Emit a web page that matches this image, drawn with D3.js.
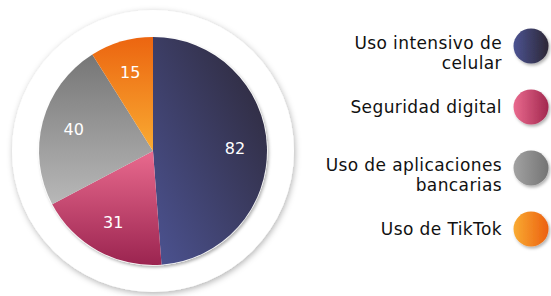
<!DOCTYPE html>
<html>
<head>
<meta charset="utf-8">
<script src="https://cdn.jsdelivr.net/npm/d3@7"></script>
<style>
  html, body { margin: 0; padding: 0; background: #fff; }
  text { font-family: "DejaVu Sans", sans-serif; }
</style>
</head>
<body>
<div id="chart"></div>
<script>
(function() {
  var categories = ["Uso intensivo de celular", "Seguridad digital", "Uso de aplicaciones bancarias", "Uso de TikTok"];
  var values = [82, 31, 40, 15];
  var legendLines = [["Uso intensivo de", "celular"], ["Seguridad digital"], ["Uso de aplicaciones", "bancarias"], ["Uso de TikTok"]];

  // slice gradients: [start, end]
  var sliceColors = [["#4c5392", "#2c2736"], ["#e96a8e", "#9b2450"], ["#767676", "#b8b8b8"], ["#ec6510", "#f9ab32"]];
  var dotColors = [["#4c5392", "#2c2736"], ["#e96a8e", "#a2284f"], ["#a2a2a2", "#747474"], ["#f9ab32", "#ec6010"]];

  var width = 551, height = 296;
  var cx = 153, cy = 151, radius = 114;

  var data = categories.map(function(c, i) {
    return { name: c, value: values[i], lines: legendLines[i], i: i };
  });

  var svg = d3.select("#chart")
    .append("svg")
    .attr("width", width)
    .attr("height", height);

  var defs = svg.append("defs");

  var shadow = defs.append("filter")
    .attr("id", "shadow")
    .attr("x", "-20%").attr("y", "-20%")
    .attr("width", "140%").attr("height", "140%");
  shadow.append("feDropShadow")
    .attr("dx", 1).attr("dy", 2)
    .attr("stdDeviation", 3)
    .attr("flood-color", "#000")
    .attr("flood-opacity", 0.3);

  var dotShadow = defs.append("filter")
    .attr("id", "dotshadow")
    .attr("x", "-40%").attr("y", "-40%")
    .attr("width", "180%").attr("height", "180%");
  dotShadow.append("feDropShadow")
    .attr("dx", 1.5).attr("dy", 2)
    .attr("stdDeviation", 1.5)
    .attr("flood-color", "#000")
    .attr("flood-opacity", 0.3);

  // slice gradients (diagonal for the first, vertical for the rest)
  var sliceDirs = [[0, 1, 1, 0], [0, 0, 0, 1], [0, 0, 0, 1], [0, 0, 0, 1]];
  sliceColors.forEach(function(c, i) {
    var g = defs.append("linearGradient")
      .attr("id", "slice" + i)
      .attr("x1", sliceDirs[i][0]).attr("y1", sliceDirs[i][1])
      .attr("x2", sliceDirs[i][2]).attr("y2", sliceDirs[i][3]);
    g.append("stop").attr("offset", "0%").attr("stop-color", c[0]);
    g.append("stop").attr("offset", "100%").attr("stop-color", c[1]);
  });

  dotColors.forEach(function(c, i) {
    var g = defs.append("linearGradient")
      .attr("id", "dot" + i)
      .attr("x1", 0).attr("y1", 0)
      .attr("x2", 1).attr("y2", 0);
    g.append("stop").attr("offset", "0%").attr("stop-color", c[0]);
    g.append("stop").attr("offset", "100%").attr("stop-color", c[1]);
  });

  var g = svg.append("g")
    .attr("transform", "translate(" + cx + "," + cy + ")");

  // white plate behind the pie
  g.append("circle")
    .attr("r", radius + 27)
    .attr("fill", "#fff")
    .attr("filter", "url(#shadow)");

  var pie = d3.pie()
    .sort(null)
    .value(function(d) { return d.value; });

  var arc = d3.arc().innerRadius(0).outerRadius(radius);
  var labelArc = d3.arc().innerRadius(radius * 0.72).outerRadius(radius * 0.72);

  var arcs = pie(data);

  g.append("circle")
    .attr("r", radius + 0.5)
    .attr("fill", "#fff")
    .attr("filter", "url(#dotshadow)");

  g.selectAll(".slice")
    .data(arcs)
    .enter().append("path")
    .attr("class", "slice")
    .attr("d", arc)
    .attr("fill", function(d) { return "url(#slice" + d.data.i + ")"; });

  g.selectAll(".slicelabel")
    .data(arcs)
    .enter().append("text")
    .attr("class", "slicelabel")
    .attr("transform", function(d) { return "translate(" + labelArc.centroid(d) + ")"; })
    .attr("dy", "0.35em")
    .style("text-anchor", "middle")
    .style("font-size", "16px")
    .attr("fill", "#fff")
    .text(function(d) { return d.data.value; });

  // legend
  var yScale = d3.scalePoint()
    .domain(categories)
    .range([46, 229]);

  var dotX = 531, textX = 502, lineH = 20;

  var legend = svg.selectAll(".legend")
    .data(data)
    .enter().append("g")
    .attr("class", "legend")
    .attr("transform", function(d) { return "translate(0," + yScale(d.name) + ")"; });

  legend.append("circle")
    .attr("cx", dotX)
    .attr("cy", 0)
    .attr("r", 17.5)
    .attr("fill", function(d) { return "url(#dot" + d.i + ")"; })
    .attr("filter", "url(#dotshadow)");

  legend.append("text")
    .attr("x", textX)
    .attr("y", function(d) { return d.lines.length > 1 ? -3 : 0; })
    .style("text-anchor", "end")
    .style("font-size", "17px")
    .style("letter-spacing", "0.4px")
    .attr("fill", "#111")
    .selectAll("tspan")
    .data(function(d) { return d.lines; })
    .enter().append("tspan")
    .attr("x", textX)
    .attr("dy", function(d, i) { return i === 0 ? "0.35em" : lineH; })
    .text(function(d) { return d; });
})();
</script>
</body>
</html>
